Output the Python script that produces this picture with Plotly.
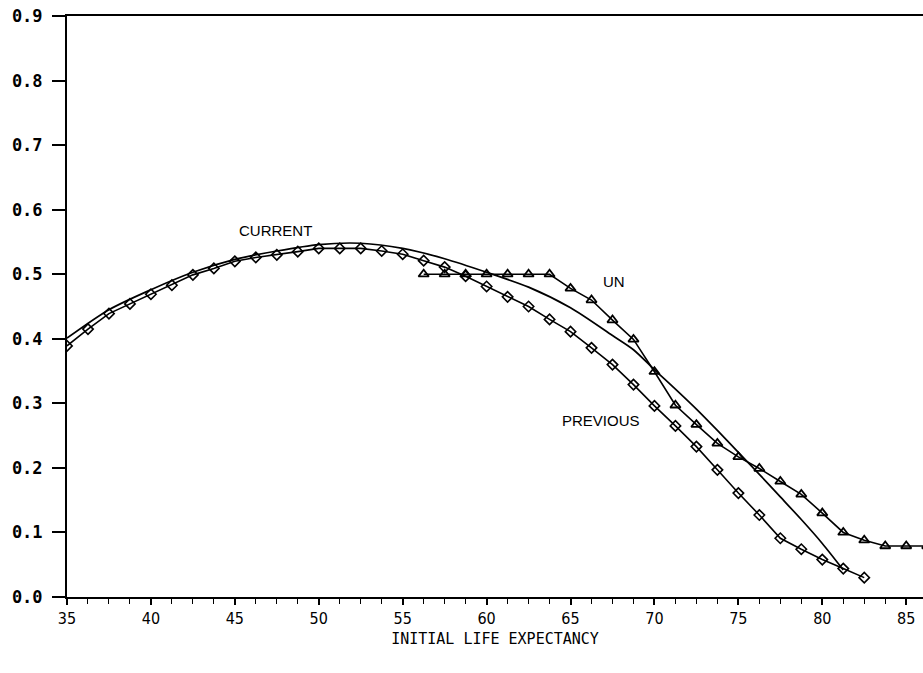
import plotly.graph_objects as go

# PREVIOUS (diamonds)
prev_x = [35, 36.25, 37.5, 38.75, 40, 41.25, 42.5, 43.75, 45, 46.25, 47.5, 48.75,
          50, 51.25, 52.5, 53.75, 55, 56.25, 57.5, 58.75, 60, 61.25, 62.5, 63.75,
          65, 66.25, 67.5, 68.75, 70, 71.25, 72.5, 73.75, 75, 76.25, 77.5, 78.75,
          80, 81.25, 82.5]
prev_y = [0.389, 0.415, 0.439, 0.454, 0.469, 0.483, 0.499, 0.509, 0.520, 0.526, 0.530, 0.535,
          0.540, 0.540, 0.540, 0.536, 0.531, 0.521, 0.511, 0.497, 0.481, 0.465, 0.450, 0.430,
          0.411, 0.386, 0.360, 0.329, 0.296, 0.265, 0.233, 0.197, 0.161, 0.127, 0.091, 0.074,
          0.058, 0.044, 0.030]

# UN (triangles)
un_x = [56.25, 57.5, 58.75, 60, 61.25, 62.5, 63.75, 65, 66.25, 67.5, 68.75, 70,
        71.25, 72.5, 73.75, 75, 76.25, 77.5, 78.75, 80, 81.25, 82.5, 83.75, 85, 86.25]
un_y = [0.5, 0.5, 0.5, 0.5, 0.5, 0.5, 0.5, 0.478, 0.460, 0.429, 0.399, 0.349,
        0.297, 0.267, 0.238, 0.217, 0.199, 0.179, 0.159, 0.130, 0.100, 0.088, 0.079, 0.079, 0.079]

# CURRENT (smooth line)
cur_x = [35, 37.5, 40, 42.5, 45, 47.5, 50, 52.5, 55, 57.5, 60, 62.5, 65, 67.5,
         68.75, 70, 71.25, 72.5, 73.75, 75, 76.25, 77.5, 78.75, 80, 81.25]
cur_y = [0.401, 0.445, 0.476, 0.503, 0.523, 0.536, 0.546, 0.548, 0.540, 0.524, 0.503, 0.480, 0.448, 0.405,
         0.383, 0.352, 0.322, 0.291, 0.258, 0.224, 0.190, 0.155, 0.120, 0.083, 0.042]

x_ticks = [35, 40, 45, 50, 55, 60, 65, 70, 75, 80, 85]
y_ticks = [0.0, 0.1, 0.2, 0.3, 0.4, 0.5, 0.6, 0.7, 0.8, 0.9]

labels = [("CURRENT", 47.4, 0.568), ("UN", 67.6, 0.489), ("PREVIOUS", 66.8, 0.273)]

fig = go.Figure()
fig.add_trace(go.Scatter(x=cur_x, y=cur_y, mode="lines", line=dict(color="black", width=1.7, shape="spline", smoothing=0.8),
                         name="CURRENT", showlegend=False))
fig.add_trace(go.Scatter(x=prev_x, y=prev_y, mode="lines+markers", line=dict(color="black", width=1.6),
                         marker=dict(symbol="diamond-open", size=8, color="black", line=dict(width=1.6)),
                         name="PREVIOUS", showlegend=False))
fig.add_trace(go.Scatter(x=un_x, y=un_y, mode="lines+markers", line=dict(color="black", width=1.6),
                         marker=dict(symbol="triangle-up-open", size=9, color="black", line=dict(width=1.8)),
                         name="UN", showlegend=False))

for text, lx, ly in labels:
    fig.add_annotation(x=lx, y=ly, text=text, showarrow=False,
                       font=dict(family="Liberation Sans, Arial", size=15, color="black"))

fig.update_layout(
    width=923, height=673,
    margin=dict(l=67, r=0, t=16, b=76),
    paper_bgcolor="white", plot_bgcolor="white",
    xaxis=dict(range=[35, 86], tickvals=x_ticks, ticktext=[str(v) for v in x_ticks],
               automargin=False, ticklabeloverflow="allow",
               showgrid=False, zeroline=False, showline=True, linecolor="black", linewidth=2,
               mirror=True, ticks="outside", ticklen=6, tickwidth=1.6, tickcolor="black",
               minor=dict(dtick=1.25, tick0=35, ticks="outside", ticklen=5, tickwidth=1.4, tickcolor="black"),
               tickfont=dict(family="Liberation Sans Narrow, DejaVu Sans Condensed, Arial Narrow, sans-serif", size=16, color="black"),
               title=dict(text="INITIAL LIFE EXPECTANCY", standoff=6,
                          font=dict(family="DejaVu Sans Mono", size=15, color="black"))),
    yaxis=dict(range=[0, 0.9], tickvals=y_ticks, ticktext=["%.1f" % v for v in y_ticks],
               automargin=False, ticklabeloverflow="allow",
               showgrid=False, zeroline=False, showline=True, linecolor="black", linewidth=2,
               ticks="outside", ticklen=13, tickwidth=1.6, tickcolor="black", ticklabelstandoff=6,
               tickfont=dict(family="DejaVu Sans Mono", size=17, color="black", weight="bold")),
)

fig.write_html("out.html", config={"displayModeBar": False},
               post_script="document.body.style.margin='0';document.body.style.overflow='hidden';")
